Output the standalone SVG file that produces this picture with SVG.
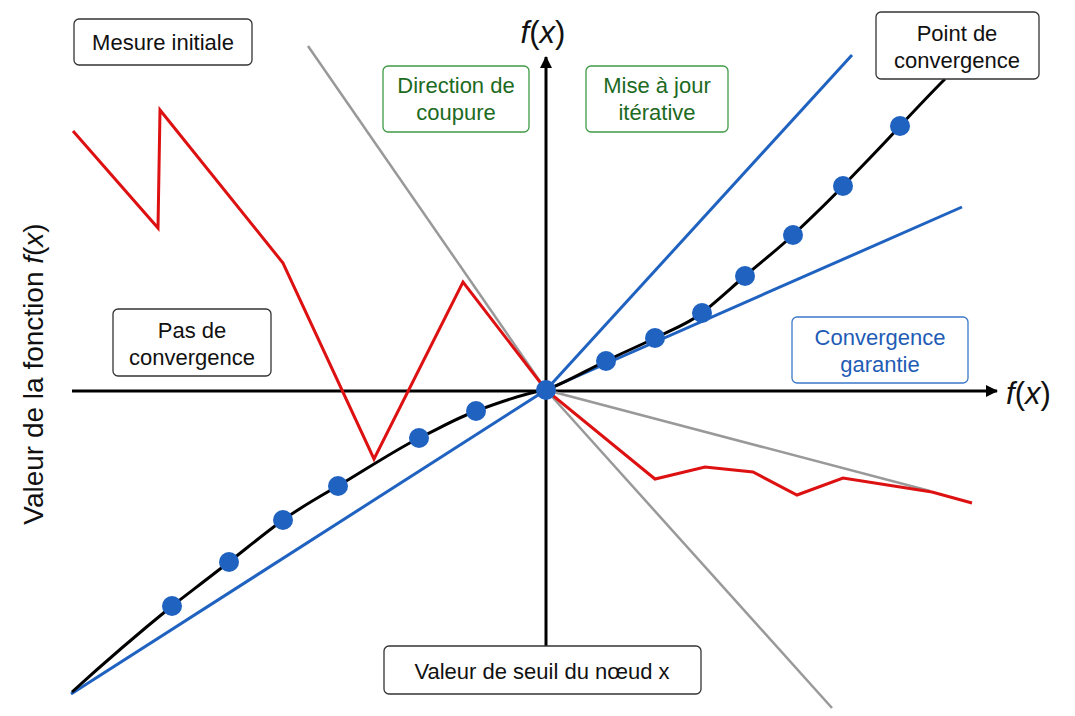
<svg xmlns="http://www.w3.org/2000/svg" width="1075" height="716" viewBox="0 0 1075 716">
<style>
.box{fill:#fff;stroke:#333;stroke-width:1.3}
.gbox{fill:#fff;stroke:#3f9a45;stroke-width:1.3}
.bbox{fill:#fff;stroke:#3a78c8;stroke-width:1.3}
.t{font-family:"Liberation Sans",Arial,sans-serif;font-size:22px;fill:#111;text-anchor:middle}
.tg{fill:#1d6a22}
.tb{fill:#1f5cb5}
.ax{font-family:"Liberation Sans",Arial,sans-serif;font-size:31px;fill:#111}
.red{fill:none;stroke:#dd1111;stroke-width:3;stroke-linejoin:miter}
.blue{fill:none;stroke:#1f62c0;stroke-width:3}
.gray{fill:none;stroke:#999;stroke-width:2.5}
.curve{fill:none;stroke:#000;stroke-width:3;stroke-linejoin:round}
.dot{fill:#1f62c0}
</style>
<defs>
<marker id="arr" viewBox="0 0 12 12" refX="11" refY="6" markerWidth="12" markerHeight="12" markerUnits="userSpaceOnUse" orient="auto">
<path d="M0,0 L12,6 L0,12 z" fill="#000"/>
</marker>
</defs>
<rect width="1075" height="716" fill="#fff"/>

<g id="connectors">
<line x1="72" y1="391" x2="997" y2="391" stroke="#000" stroke-width="3" marker-end="url(#arr)"/>
<line x1="546" y1="646" x2="546" y2="57" stroke="#000" stroke-width="3" marker-end="url(#arr)"/>
<line class="gray" x1="308" y1="46" x2="546" y2="390"/>
<line class="gray" x1="546" y1="390" x2="832" y2="708"/>
<line class="gray" x1="546" y1="390" x2="930" y2="491"/>
<line class="blue" x1="71" y1="694" x2="546" y2="390"/>
<line class="blue" x1="546" y1="390" x2="852" y2="55"/>
<line class="blue" x1="546" y1="390" x2="962" y2="207"/>
<polyline class="red" points="73,131 158,228 160,110 283,263 374,459 463,282 546,390 655,479 705,467 753,472 797,495 843,478 932,492 972,503"/>
<path class="curve" d="M72,692 C105,662 140,632 172,606 C190,592 210,577 229,562 C247,548 265,533 283,520 C301,507 319,497 338,486 C365,470 392,452 419,438 C438,429 457,418 476,411 C500,402 525,393 546,390 C567,382 587,370 606,361 C622,353 639,346 655,338 C671,330 688,324 702,313 C717,301 731,288 745,276 C761,262 777,250 793,235 C810,219 827,203 843,186 C862,166 882,146 900,126 C915,110 930,94 945,79"/>
<g>
<circle class="dot" cx="172" cy="606" r="10"/>
<circle class="dot" cx="229" cy="562" r="10"/>
<circle class="dot" cx="283" cy="520" r="10"/>
<circle class="dot" cx="338" cy="486" r="10"/>
<circle class="dot" cx="419" cy="438" r="10"/>
<circle class="dot" cx="476" cy="411" r="10"/>
<circle class="dot" cx="546" cy="390" r="10"/>
<circle class="dot" cx="606" cy="361" r="10"/>
<circle class="dot" cx="655" cy="338" r="10"/>
<circle class="dot" cx="702" cy="313" r="10"/>
<circle class="dot" cx="745" cy="276" r="10"/>
<circle class="dot" cx="793" cy="235" r="10"/>
<circle class="dot" cx="843" cy="186" r="10"/>
<circle class="dot" cx="900" cy="126" r="10"/>
</g>
</g>

<g id="axis-labels">
<text class="ax" x="543" y="43" text-anchor="middle"><tspan font-style="italic">f</tspan>(<tspan font-style="italic">x</tspan>)</text>
<text class="ax" x="1006" y="404"><tspan font-style="italic">f</tspan>(<tspan font-style="italic">x</tspan>)</text>
<text class="ax" transform="translate(43,374) rotate(-90)" text-anchor="middle" style="font-size:28px">Valeur de la fonction <tspan font-style="italic">f</tspan>(<tspan font-style="italic">x</tspan>)</text>
</g>

<g id="mesure-initiale">
<rect class="box" x="74" y="19" width="178" height="46" rx="5"/>
<text class="t" x="163" y="50">Mesure initiale</text>
</g>
<g id="direction-coupure">
<rect class="gbox" x="383" y="66" width="146" height="66" rx="5"/>
<text class="t tg" x="456" y="93">Direction de</text>
<text class="t tg" x="456" y="120">coupure</text>
</g>
<g id="mise-a-jour">
<rect class="gbox" x="586" y="66" width="142" height="66" rx="5"/>
<text class="t tg" x="657" y="93">Mise à jour</text>
<text class="t tg" x="657" y="120">itérative</text>
</g>
<g id="point-convergence">
<rect class="box" x="876" y="12" width="163" height="67" rx="5"/>
<text class="t" x="957" y="41">Point de</text>
<text class="t" x="957" y="68">convergence</text>
</g>
<g id="pas-convergence">
<rect class="box" x="113" y="309" width="158" height="67" rx="5"/>
<text class="t" x="192" y="338">Pas de</text>
<text class="t" x="192" y="365">convergence</text>
</g>
<g id="convergence-garantie">
<rect class="bbox" x="792" y="317" width="176" height="66" rx="5"/>
<text class="t tb" x="880" y="345">Convergence</text>
<text class="t tb" x="880" y="372">garantie</text>
</g>
<g id="valeur-seuil">
<rect class="box" x="384" y="646" width="317" height="48" rx="5"/>
<text class="t" x="542" y="679">Valeur de seuil du nœud x</text>
</g>
</svg>
